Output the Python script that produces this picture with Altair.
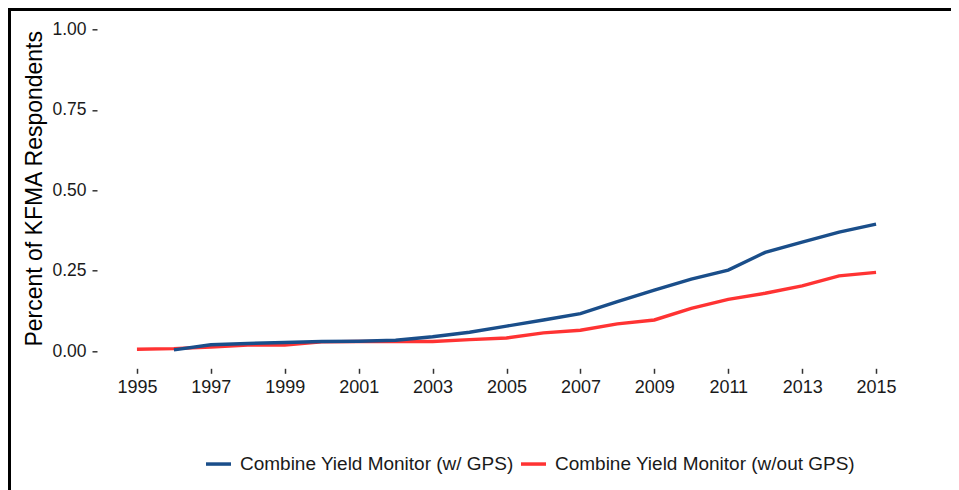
import altair as alt
import pandas as pd

years = list(range(1995, 2016))
with_gps = [None, 0.004, 0.020, 0.024, 0.027, 0.030, 0.031, 0.034, 0.045, 0.059,
            0.078, 0.097, 0.117, 0.154, 0.190, 0.224, 0.252, 0.307, 0.339, 0.370, 0.395]
without_gps = [0.006, 0.008, 0.013, 0.019, 0.019, 0.029, 0.030, 0.030, 0.030, 0.036,
               0.041, 0.057, 0.065, 0.085, 0.097, 0.133, 0.161, 0.180, 0.203, 0.234, 0.245]
series_names = ["Combine Yield Monitor (w/ GPS)", "Combine Yield Monitor (w/out GPS)"]
series_colors = ["#1A4E8A", "#FF3333"]
x_ticks = list(range(1995, 2016, 2))
y_ticks = [0, 0.25, 0.5, 0.75, 1.0]

rows = []
for y, a, b in zip(years, with_gps, without_gps):
    if a is not None:
        rows.append({"year": y, "value": a, "series": series_names[0]})
    if b is not None:
        rows.append({"year": y, "value": b, "series": series_names[1]})
df = pd.DataFrame(rows)

FONT = "Liberation Sans"

lines = alt.Chart(df).mark_line(strokeWidth=3.4, clip=False).encode(
    x=alt.X("year:Q",
            scale=alt.Scale(domain=[1994, 2016], nice=False, zero=False),
            axis=alt.Axis(values=x_ticks, format="d", title=None, grid=False,
                          domain=False, tickSize=5, tickWidth=1.5, tickColor="#333333",
                          labelFontSize=18, labelFont=FONT, labelColor="#1a1a1a",
                          labelPadding=5, offset=1, labelOverlap=False, labelFlush=False)),
    y=alt.Y("value:Q",
            scale=alt.Scale(domain=[-0.05, 1.05], nice=False, zero=False),
            axis=alt.Axis(values=y_ticks, format=".2f", title="Percent of KFMA Respondents",
                          grid=False, domain=False, tickSize=5, tickWidth=1.5,
                          tickColor="#333333", labelFontSize=17.5, labelFont=FONT,
                          labelColor="#1a1a1a", labelPadding=6, offset=3,
                          titleFont=FONT, titleFontSize=23, titleFontWeight="normal",
                          titleColor="#000000", titleX=-63, titleY=175,
                          titleAngle=-90, titleBaseline="middle", titleAlign="center")),
    color=alt.Color("series:N",
                    scale=alt.Scale(domain=series_names, range=series_colors),
                    legend=alt.Legend(title=None, orient="none", legendX=104, legendY=436,
                                      direction="horizontal", symbolType="stroke",
                                      symbolSize=625, symbolStrokeWidth=3.5,
                                      labelFontSize=19.0, labelFont=FONT,
                                      labelColor="#1a1a1a", labelOffset=7,
                                      columnPadding=0, labelLimit=500, padding=0)),
)

frame_top = alt.Chart(df).mark_rule(color="#000000", strokeWidth=2.5).encode(
    x=alt.value(-92), x2=alt.value(851), y=alt.value(-4.3)
)
frame_left = alt.Chart(df).mark_rule(color="#000000", strokeWidth=2.5).encode(
    x=alt.value(-91), y=alt.value(-5.5), y2=alt.value(480)
)

chart = alt.layer(lines, frame_top, frame_left).properties(
    width=813, height=354,
    autosize=alt.AutoSizeParams(type="none"),
    padding={"left": 92, "top": 5.3, "right": 38, "bottom": 123},
    background="white",
).configure_view(stroke=None)

chart.save("out.html", embed_options={"renderer": "svg", "actions": False})
